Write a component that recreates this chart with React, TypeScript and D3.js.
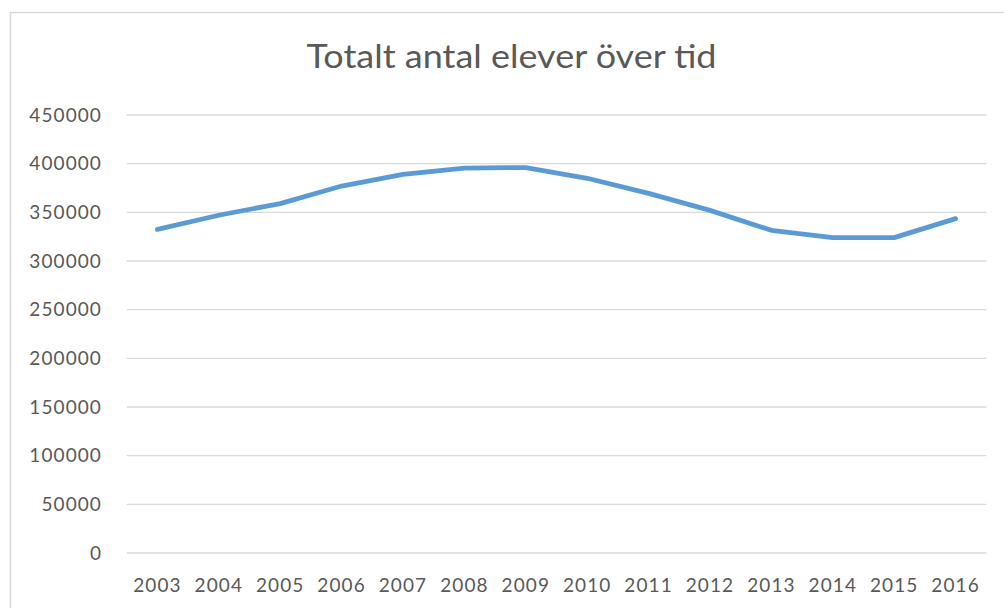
import React from "react";
import * as d3 from "d3";

// Total number of pupils per school year
const years: string[] = [
  "2003", "2004", "2005", "2006", "2007", "2008", "2009",
  "2010", "2011", "2012", "2013", "2014", "2015", "2016",
];
const pupils: number[] = [
  332500, 347000, 359000, 377000, 389000, 395500, 396000,
  385000, 369500, 352000, 331500, 324000, 324000, 343500,
];
const yTicks: number[] = [0, 50000, 100000, 150000, 200000, 250000, 300000, 350000, 400000, 450000];
const title = "Totalt antal elever över tid";

const W = 1004;
const H = 608;
const plot = { left: 126.7, right: 986.3, top: 115, bottom: 553 };
const textColor = "#595959";
const gridColor = "#d9d9d9";
const lineColor = "#5b9bd5";
const font = "Lato, 'Open Sans', sans-serif";

export default function App() {
  const x = d3.scaleBand<string>().domain(years).range([plot.left, plot.right]).padding(0);
  const y = d3.scaleLinear().domain([0, 450000]).range([plot.bottom, plot.top]);
  const cx = (d: string) => (x(d) ?? 0) + x.bandwidth() / 2;

  const line = d3
    .line<number>()
    .x((_, i) => cx(years[i]))
    .y((v) => y(v))
    .curve(d3.curveLinear);

  return (
    <svg
      width={W}
      height={H}
      style={{ position: "absolute", left: 0, top: 0, display: "block", background: "#fff" }}
    >
      {/* chart frame */}
      <rect x={10.5} y={12.5} width={W + 20} height={H + 20} fill="#fff" stroke={gridColor} strokeWidth={1.5} />

      <text
        x={511.5}
        y={67.5}
        textAnchor="middle"
        fontFamily={font}
        fontSize={33}
        fill={textColor}
        textLength={410}
        lengthAdjust="spacingAndGlyphs"
      >
        {title}
      </text>

      {/* horizontal gridlines and value labels */}
      {yTicks.map((t) => (
        <g key={t}>
          <line x1={plot.left} x2={plot.right} y1={y(t)} y2={y(t)} stroke={gridColor} strokeWidth={1.4} />
          <text
            x={102}
            y={y(t) + 6.5}
            textAnchor="end"
            fontFamily={font}
            fontSize={19}
            letterSpacing={1.1}
            fill={textColor}
          >
            {t}
          </text>
        </g>
      ))}

      {/* category labels */}
      {years.map((yr) => (
        <text
          key={yr}
          x={cx(yr)}
          y={592}
          textAnchor="middle"
          fontFamily={font}
          fontSize={19}
          letterSpacing={1.1}
          fill={textColor}
        >
          {yr}
        </text>
      ))}

      <path
        d={line(pupils) ?? ""}
        fill="none"
        stroke={lineColor}
        strokeWidth={4.8}
        strokeLinecap="round"
        strokeLinejoin="round"
      />
    </svg>
  );
}
